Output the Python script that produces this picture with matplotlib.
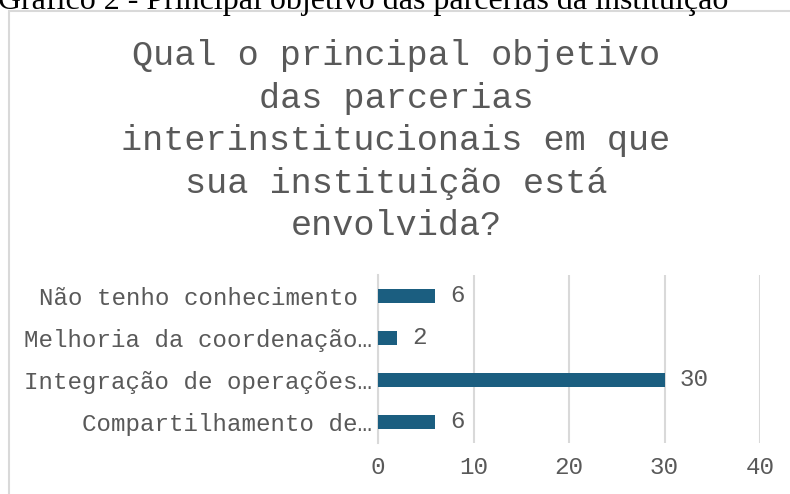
import matplotlib
matplotlib.use("Agg")
import matplotlib.pyplot as plt
from matplotlib.patches import Rectangle

# trailing space on the untruncated label: Excel right-aligns it one cell
# further left than the labels that end in an ellipsis
categories = ["Compartilhamento de…", "Integração de operações…",
              "Melhoria da coordenação…", "Não tenho conhecimento "]
values = [6, 30, 2, 6]
xticks = [0, 10, 20, 30, 40]

title = "Qual o principal objetivo\ndas parcerias\ninterinstitucionais em que\nsua instituição está\nenvolvida?"
caption = "Gráfico 2 - Principal objetivo das parcerias da instituição"

mono = ["Liberation Mono", "DejaVu Sans Mono"]
gray = "#595959"
grid = "#D9D9D9"
bar_color = "#1B5E80"

W, H = 790, 494
fig = plt.figure(figsize=(W / 100, H / 100), dpi=100)

# chart frame (cut off at right and bottom like in the document)
fig.patches.append(Rectangle((9 / W, -0.05), 1.0, 1 - 11 / H + 0.05,
                             transform=fig.transFigure, fill=False,
                             edgecolor=grid, linewidth=1.5))

fig.text(-2 / W, 1 - 9 / H, caption, family="Liberation Serif", fontsize=23,
         ha="left", va="baseline", color="black")

fig.text(396 / W, 1 - 39 / H, title, family=mono, fontsize=25.3, color=gray,
         ha="center", va="top", linespacing=1.37)

ax = fig.add_axes([378 / W, 1 - 443 / H, (760 - 378) / W, (443 - 275) / H])
y = range(len(categories))
ax.barh(y, values, height=0.35, color=bar_color, zorder=3)
for yi, v in zip(y, values):
    ax.text(v + 1.6, yi, str(v), family=mono, fontsize=17.4, color=gray,
            va="center", ha="left")

ax.set_xlim(0, 40)
ax.set_ylim(-0.5, 3.5)
ax.set_xticks(xticks)
ax.set_yticks(list(y))
ax.set_yticklabels(categories)
ax.grid(axis="x", color=grid, linewidth=1.5, zorder=0)
for s in ["top", "right", "bottom"]:
    ax.spines[s].set_visible(False)
ax.spines["left"].set_color(grid)
ax.spines["left"].set_linewidth(1.5)
ax.tick_params(length=0, colors=gray, labelsize=17.4)
ax.tick_params(axis="x", pad=9)
ax.tick_params(axis="y", pad=4)
for lab in ax.get_xticklabels() + ax.get_yticklabels():
    lab.set_family(mono)

fig.savefig("out.png", dpi=100)
